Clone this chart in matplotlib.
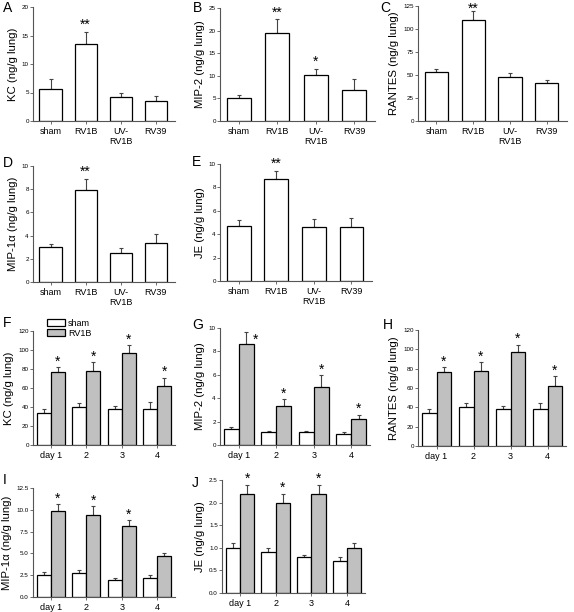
import matplotlib.pyplot as plt
import numpy as np

plt.rcParams['font.family'] = ['Liberation Sans', 'DejaVu Sans']

# top row: four treatment groups
groups = ['sham', 'RV1B', 'UV-\nRV1B', 'RV39']

kc_mean = [5.6, 13.5, 4.2, 3.5]
kc_err = [1.8, 2.2, 0.7, 0.9]
kc_star = ['', '**', '', '']

mip2_mean = [5.0, 19.4, 10.2, 6.8]
mip2_err = [0.8, 3.1, 1.3, 2.4]
mip2_star = ['', '**', '*', '']

rantes_mean = [53, 110, 48, 41]
rantes_err = [4, 10, 4, 4]
rantes_star = ['', '**', '', '']

mip1a_mean = [3.0, 7.9, 2.5, 3.4]
mip1a_err = [0.3, 1.0, 0.4, 0.7]
mip1a_star = ['', '**', '', '']

je_mean = [4.7, 8.7, 4.6, 4.6]
je_err = [0.5, 0.7, 0.7, 0.8]
je_star = ['', '**', '', '']

# time course: day 1-4, sham vs RV1B
days = ['day 1', '2', '3', '4']

kc_t_sham = [34, 40, 38, 38]
kc_t_sham_err = [4, 4, 3, 7]
kc_t_rv = [77, 78, 97, 62]
kc_t_rv_err = [5, 9, 8, 9]

mip2_t_sham = [1.4, 1.1, 1.1, 0.9]
mip2_t_sham_err = [0.15, 0.1, 0.1, 0.2]
mip2_t_rv = [8.6, 3.35, 4.95, 2.2]
mip2_t_rv_err = [1.1, 0.6, 1.0, 0.4]

rantes_t_sham = [34, 40, 38, 38]
rantes_t_sham_err = [4, 4, 3, 7]
rantes_t_rv = [77, 78, 97, 62]
rantes_t_rv_err = [5, 9, 8, 10]

mip1a_t_sham = [2.5, 2.8, 1.9, 2.2]
mip1a_t_sham_err = [0.35, 0.3, 0.25, 0.35]
mip1a_t_rv = [9.85, 9.35, 8.1, 4.65]
mip1a_t_rv_err = [0.85, 1.1, 0.7, 0.35]

je_t_sham = [1.0, 0.9, 0.8, 0.7]
je_t_sham_err = [0.1, 0.1, 0.05, 0.1]
je_t_rv = [2.2, 2.0, 2.2, 1.0]
je_t_rv_err = [0.2, 0.2, 0.2, 0.1]

fig = plt.figure(figsize=(5.74, 6.12), dpi=100)
W, H = 574.0, 612.0

AX_COLOR = '#555555'
GRAY = '#c0c0c0'


def make_ax(left, right, bottom, top):
    return fig.add_axes([left / W, 1 - bottom / H, (right - left) / W, (bottom - top) / H])


def style(ax, ylim, yticks, yfmt, ylabel):
    for s in ['top', 'right']:
        ax.spines[s].set_visible(False)
    for s in ['left', 'bottom']:
        ax.spines[s].set_color(AX_COLOR)
        ax.spines[s].set_linewidth(0.8)
    ax.set_ylim(*ylim)
    ax.set_yticks(yticks)
    ax.set_yticklabels([yfmt.format(v) for v in yticks], fontsize=4.5)
    ax.tick_params(axis='y', length=2, width=0.6, color=AX_COLOR, pad=1)
    ax.tick_params(axis='x', length=2, width=0.6, color=AX_COLOR, labelsize=6.5, pad=2)
    ax.set_ylabel(ylabel, fontsize=8.2, labelpad=3)


def star(ax, s, x, y, dx=0, dy=2):
    ax.annotate(s, (x, y), xytext=(dx, dy), textcoords='offset points',
                ha='center', va='baseline', fontsize=10, annotation_clip=False)


def single_panel(ax, mean, err, stars, ylim, yticks, yfmt, ylabel, star_dy=2):
    x = np.arange(len(groups))
    ax.bar(x, mean, width=0.63, color='white', edgecolor='black', linewidth=0.9, zorder=2)
    ax.errorbar(x, mean, yerr=[np.zeros(len(err)), err], fmt='none', ecolor='#444444',
                elinewidth=0.8, capsize=1.5, capthick=0.8, zorder=1)
    for xi, m, e, s in zip(x, mean, err, stars):
        if s:
            star(ax, s, xi, m + e, dy=star_dy)
    ax.set_xlim(-0.5, 3.55)
    ax.set_xticks(x)
    ax.set_xticklabels(groups)
    style(ax, ylim, yticks, yfmt, ylabel)


def time_panel(ax, sham, sham_err, rv, rv_err, stars, ylim, yticks, yfmt, ylabel,
               side_star=None):
    x = np.arange(len(days))
    w = 0.4
    b1 = ax.bar(x - w / 2, sham, width=w, color='white', edgecolor='black', linewidth=0.9,
                zorder=2, label='sham')
    b2 = ax.bar(x + w / 2, rv, width=w, color=GRAY, edgecolor='black', linewidth=0.9,
                zorder=2, label='RV1B')
    ax.errorbar(x - w / 2, sham, yerr=[np.zeros(4), sham_err], fmt='none', ecolor='#444444',
                elinewidth=0.8, capsize=1.5, capthick=0.8, zorder=1)
    ax.errorbar(x + w / 2, rv, yerr=[np.zeros(4), rv_err], fmt='none', ecolor='#444444',
                elinewidth=0.8, capsize=1.5, capthick=0.8, zorder=1)
    for i, (m, e, s) in enumerate(zip(rv, rv_err, stars)):
        if not s:
            continue
        if side_star is not None and i == side_star:
            star(ax, s, x[i] + w / 2, m + e, dx=7, dy=-9)
        else:
            star(ax, s, x[i] + w / 2, m + e, dy=1)
    ax.set_xlim(-0.5, 3.5)
    ax.set_xticks(x)
    ax.set_xticklabels(days)
    style(ax, ylim, yticks, yfmt, ylabel)
    return b1, b2


# row 1
axA = make_ax(33, 175, 121, 7)
single_panel(axA, kc_mean, kc_err, kc_star, (0, 20), [0, 5, 10, 15, 20], '{:d}',
             'KC (ng/g lung)')
axB = make_ax(220, 375, 121, 8)
single_panel(axB, mip2_mean, mip2_err, mip2_star, (0, 25), [0, 5, 10, 15, 20, 25], '{:d}',
             'MIP-2 (ng/g lung)')
axC = make_ax(418, 567, 121, 6)
single_panel(axC, rantes_mean, rantes_err, rantes_star, (0, 125), [0, 25, 50, 75, 100, 125],
             '{:d}', 'RANTES (ng/g lung)', star_dy=-1.5)

# row 2
axD = make_ax(33, 175, 282, 166)
single_panel(axD, mip1a_mean, mip1a_err, mip1a_star, (0, 10), [0, 2, 4, 6, 8, 10], '{:d}',
             'MIP-1\u03b1 (ng/g lung)')
axE = make_ax(220, 372, 281, 164)
single_panel(axE, je_mean, je_err, je_star, (0, 10), [0, 2, 4, 6, 8, 10], '{:d}',
             'JE (ng/g lung)')

# row 3
axF = make_ax(33, 175, 445, 331)
b1, b2 = time_panel(axF, kc_t_sham, kc_t_sham_err, kc_t_rv, kc_t_rv_err, ['*'] * 4,
                    (0, 120), [0, 20, 40, 60, 80, 100, 120], '{:d}', 'KC (ng/g lung)')
axF.legend([b1, b2], ['sham', 'RV1B'], loc='upper left', bbox_to_anchor=(0.07, 1.14),
           frameon=False, fontsize=6.5, handlelength=2.0, handleheight=0.8,
           labelspacing=0.15, borderaxespad=0, handletextpad=0.4)
axG = make_ax(220, 370, 445, 328)
time_panel(axG, mip2_t_sham, mip2_t_sham_err, mip2_t_rv, mip2_t_rv_err, ['*'] * 4,
           (0, 10), [0, 2, 4, 6, 8, 10], '{:d}', 'MIP-2 (ng/g lung)', side_star=0)
axH = make_ax(418, 566, 446, 330)
time_panel(axH, rantes_t_sham, rantes_t_sham_err, rantes_t_rv, rantes_t_rv_err, ['*'] * 4,
           (0, 120), [0, 20, 40, 60, 80, 100, 120], '{:d}', 'RANTES (ng/g lung)')

# row 4
axI = make_ax(33, 175, 597, 488)
time_panel(axI, mip1a_t_sham, mip1a_t_sham_err, mip1a_t_rv, mip1a_t_rv_err,
           ['*', '*', '*', ''], (0, 12.5), [0, 2.5, 5, 7.5, 10, 12.5], '{:.1f}',
           'MIP-1\u03b1 (ng/g lung)')
axJ = make_ax(222, 365, 593, 480)
time_panel(axJ, je_t_sham, je_t_sham_err, je_t_rv, je_t_rv_err, ['*', '*', '*', ''],
           (0, 2.5), [0, 0.5, 1.0, 1.5, 2.0, 2.5], '{:.1f}', 'JE (ng/g lung)')

# panel letters
letters = [('A', 3, 8), ('B', 193, 8), ('C', 380, 8), ('D', 3, 163), ('E', 192, 162),
           ('F', 3, 323), ('G', 192, 325), ('H', 383, 325), ('I', 3, 480), ('J', 192, 483)]
for t, px, py in letters:
    fig.text(px / W, 1 - py / H, t, fontsize=10, ha='left', va='center')

fig.savefig('out.png', dpi=100)
